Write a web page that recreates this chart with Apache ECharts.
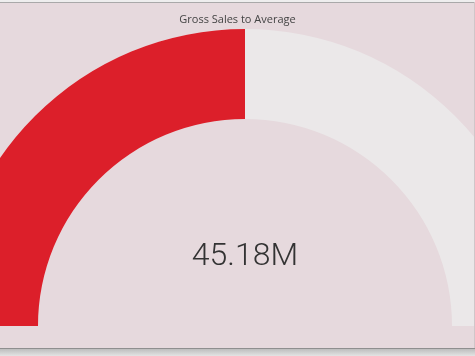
<!DOCTYPE html>
<html>
<head>
<meta charset="utf-8">
<script src="https://cdn.jsdelivr.net/npm/echarts@6/dist/echarts.min.js"></script>
<style>
html,body{margin:0;padding:0;background:#e6d9dd;}
#chart{width:475px;height:356px;}
</style>
</head>
<body>
<div id="chart"></div>
<script>
const titleText = "Gross Sales to Average";
const gaugeMin = 0;
const gaugeMax = 90.36;
const gaugeValue = [45.18];

const chart = echarts.init(document.getElementById('chart'), null, {renderer:'canvas'});
chart.setOption({
  backgroundColor: '#e6d9dd',
  animation: false,
  title: {
    text: titleText,
    left: 'center',
    top: 9,
    textStyle: {fontFamily: 'Open Sans', fontSize: 11, fontWeight: 'normal', color: '#444'}
  },
  graphic: [
    {type:'rect', shape:{x:0,y:0,width:475,height:2}, style:{fill:'#eeeeee'}, z:100},
    {type:'rect', shape:{x:0,y:2,width:475,height:1}, style:{fill:'#a9a9a9'}, z:100},
    {type:'rect', shape:{x:474,y:2,width:1,height:347}, style:{fill:'#d0c6c9'}, z:100},
    {type:'rect', shape:{x:0,y:348,width:475,height:1}, style:{fill:'#8f8f8f'}, z:100},
    {type:'rect', shape:{x:0,y:349,width:475,height:7},
      style:{fill:new echarts.graphic.LinearGradient(0,0,0,1,[{offset:0,color:'#bdbdbd'},{offset:1,color:'#e4e4e4'}])}, z:100}
  ],
  series: [{
    type: 'gauge',
    center: [245, 326],
    radius: 297,
    startAngle: 180,
    endAngle: 0,
    min: gaugeMin,
    max: gaugeMax,
    progress: {show: true, width: 90, roundCap: false, itemStyle: {color: '#dc1f2a'}},
    axisLine: {lineStyle: {width: 90, color: [[1, '#ebe8e9']]}},
    pointer: {show: false},
    axisTick: {show: false},
    splitLine: {show: false},
    axisLabel: {show: false},
    anchor: {show: false},
    title: {show: false},
    detail: {
      valueAnimation: false,
      offsetCenter: [0, -69],
      fontFamily: 'Roboto',
      fontWeight: 300,
      fontSize: 32,
      color: '#333333',
      formatter: v => v.toFixed(2) + 'M'
    },
    data: [{value: gaugeValue[0]}]
  }]
});
</script>
</body>
</html>
